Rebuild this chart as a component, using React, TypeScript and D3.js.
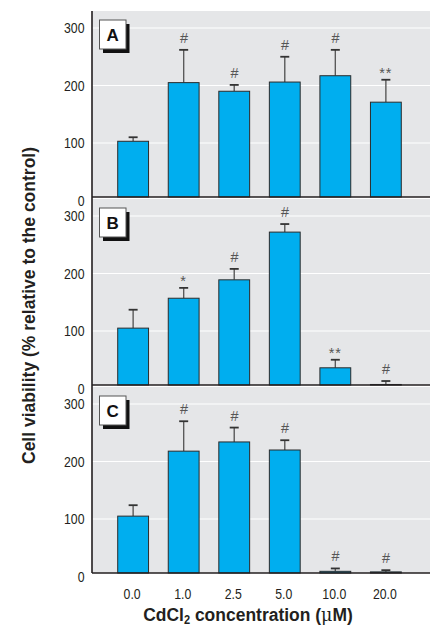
import React from "react";
import * as d3 from "d3";

// CdCl2 concentrations (µM) on the shared x axis
const concentrations = ["0.0", "1.0", "2.5", "5.0", "10.0", "20.0"];
const panelLabels = ["A", "B", "C"];
const yTicks = [0, 100, 200, 300];

// Panel A
const meansA = [103, 205, 190, 206, 217, 171];
const errorsA = [7, 57, 11, 44, 45, 39];
const marksA = ["", "#", "#", "#", "#", "**"];

// Panel B
const meansB = [105, 157, 189, 272, 36, 7];
const errorsB = [32, 18, 19, 14, 14, 6];
const marksB = ["", "*", "#", "#", "**", "#"];

// Panel C
const meansC = [105, 218, 234, 220, 9, 8];
const errorsC = [19, 52, 25, 17, 5, 3];
const marksC = ["", "#", "#", "#", "#", "#"];

const panels = [
  { label: panelLabels[0], means: meansA, errors: errorsA, marks: marksA },
  { label: panelLabels[1], means: meansB, errors: errorsB, marks: marksB },
  { label: panelLabels[2], means: meansC, errors: errorsC, marks: marksC },
];

const W = 430;
const H = 627;
const axisX = 92;
const rightX = 430;
const firstBaseline = 197;
const panelStride = 188;
const panelHeight = 186;

const sans = "'Liberation Sans', Arial, sans-serif";
const barFill = "#00aeef";
const panelBg = "#e5e6e8";
const ink = "#231f20";

// Horizontally condensed text (sans glyphs squeezed along x)
function Narrow({
  x,
  y,
  sx,
  anchor = "middle",
  size,
  weight = "normal",
  children,
}: {
  x: number;
  y: number;
  sx: number;
  anchor?: string;
  size: number;
  weight?: string;
  children: React.ReactNode;
}) {
  return (
    <text
      transform={`translate(${x},${y}) scale(${sx},1)`}
      textAnchor={anchor}
      fontFamily={sans}
      fontSize={size}
      fontWeight={weight}
      fill={ink}
    >
      {children}
    </text>
  );
}

export default function App() {
  const x = d3
    .scaleBand<string>()
    .domain(concentrations)
    .range([98, 421])
    .paddingInner(0.39)
    .paddingOuter(0.39);
  const bw = x.bandwidth();

  return (
    <svg
      width={W}
      height={H}
      style={{ position: "absolute", left: 0, top: 0, background: "#fff" }}
    >
      {panels.map((p, pi) => {
        const baseline = firstBaseline + pi * panelStride;
        const top = baseline - panelHeight;
        const y = d3
          .scaleLinear()
          .domain([0, 300])
          .range([baseline + 3.5, baseline - 169]);
        return (
          <g key={p.label}>
            <rect x={axisX} y={top} width={rightX - axisX} height={panelHeight} fill={panelBg} />
            {yTicks
              .filter((t) => t > 0)
              .map((t) => (
                <line
                  key={t}
                  x1={axisX}
                  x2={rightX}
                  y1={y(t)}
                  y2={y(t)}
                  stroke="#fff"
                  strokeWidth={1.2}
                />
              ))}
            {yTicks.map((t) => (
              <Narrow key={"l" + t} x={84.5} y={y(t) + 5.4} sx={0.82} anchor="end" size={15}>
                {t}
              </Narrow>
            ))}
            {concentrations.map((c, i) => {
              const cx = (x(c) as number) + bw / 2;
              const yTop = y(p.means[i]);
              const yErr = y(p.means[i] + p.errors[i]);
              const h = Math.max(0, baseline - yTop);
              const mark = p.marks[i];
              const isStar = mark.startsWith("*");
              return (
                <g key={c}>
                  <line x1={cx} x2={cx} y1={yTop} y2={yErr} stroke="#5a5a5a" strokeWidth={1.4} />
                  <line x1={cx - 4.5} x2={cx + 4.5} y1={yErr} y2={yErr} stroke="#333" strokeWidth={1.8} />
                  <rect
                    x={x(c)}
                    y={baseline - h}
                    width={bw}
                    height={h}
                    fill={barFill}
                    stroke="#2b2b2b"
                    strokeWidth={1}
                  />
                  {mark && (
                    <text
                      x={cx}
                      y={isStar ? yErr - 2 : yErr - 7}
                      textAnchor="middle"
                      fontFamily={sans}
                      fontStyle={isStar ? "normal" : "italic"}
                      fontSize={14.5}
                      fill="#555"
                      letterSpacing={isStar ? 1 : 0}
                    >
                      {mark}
                    </text>
                  )}
                </g>
              );
            })}
            {/* panel tag with drop shadow */}
            <rect x={103} y={baseline - 173} width={26.5} height={29} fill="#111" />
            <rect
              x={99.5}
              y={baseline - 177}
              width={26.5}
              height={29}
              fill="#fff"
              stroke="#555"
              strokeWidth={1}
            />
            <text
              x={112.75}
              y={baseline - 156.5}
              textAnchor="middle"
              fontFamily={sans}
              fontWeight="bold"
              fontSize={17}
              fill="#111"
            >
              {p.label}
            </text>
            <line x1={axisX} x2={rightX} y1={baseline} y2={baseline} stroke={ink} strokeWidth={1.6} />
          </g>
        );
      })}
      <line
        x1={axisX}
        x2={axisX}
        y1={firstBaseline - panelHeight}
        y2={firstBaseline + 2 * panelStride}
        stroke={ink}
        strokeWidth={1.6}
      />
      {concentrations.map((c) => (
        <Narrow key={"x" + c} x={(x(c) as number) + bw / 2 - 1} y={598.5} sx={0.82} size={15}>
          {c}
        </Narrow>
      ))}
      <Narrow x={248} y={620.5} sx={0.92} size={19} weight="bold">
        CdCl
        <tspan fontSize={12} dy={3}>2</tspan>
        <tspan dy={-3}> concentration (</tspan>
        <tspan fontFamily="'DejaVu Serif', serif" fontWeight="normal">μ</tspan>
        <tspan>M)</tspan>
      </Narrow>
      <g transform="translate(35,305.5) rotate(-90)">
        <Narrow x={0} y={0} sx={1} size={17.5} weight="bold">
          Cell viability (% relative to the control)
        </Narrow>
      </g>
    </svg>
  );
}
